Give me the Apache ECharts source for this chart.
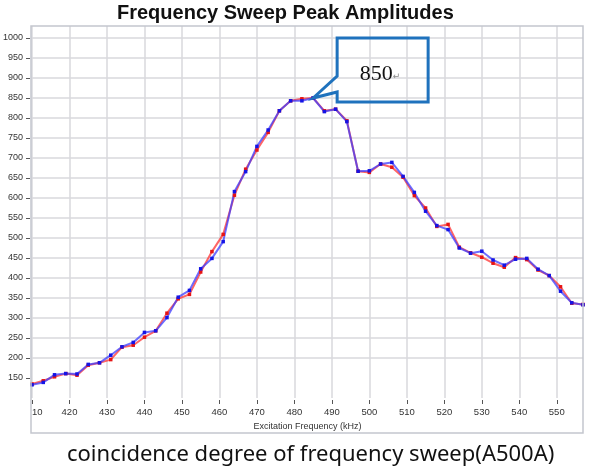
<!DOCTYPE html>
<html>
<head>
<meta charset="utf-8">
<title>Frequency Sweep Peak Amplitudes</title>
<script src="https://cdn.jsdelivr.net/npm/echarts@6/dist/echarts.min.js"></script>
<style>
	html, body { margin: 0; padding: 0; background: #fff; }
	#chart { width: 594px; height: 469px; }
</style>
</head>
<body>
<div id="chart"></div>
<script>
// excitation frequency (kHz), one point every 3 kHz
var freq = [410, 413, 416, 419, 422, 425, 428, 431, 434, 437,
	440, 443, 446, 449, 452, 455, 458, 461, 464, 467,
	470, 473, 476, 479, 482, 485, 488, 491, 494, 497,
	500, 503, 506, 509, 512, 515, 518, 521, 524, 527,
	530, 533, 536, 539, 542, 545, 548, 551, 554, 557];
// red sweep
var redAmp = [135, 143, 153, 161, 157, 182, 188, 196, 227, 232,
	252, 268, 312, 348, 359, 415, 466, 509, 607, 672,
	720, 764, 818, 843, 848, 850, 818, 822, 793, 667,
	664, 685, 677, 652, 606, 575, 529, 534, 477, 463,
	452, 437, 427, 451, 446, 420, 406, 378, 337, 334];
// blue sweep
var blueAmp = [133, 139, 158, 161, 160, 184, 188, 207, 228, 239,
	264, 268, 301, 352, 369, 423, 449, 491, 616, 666,
	729, 770, 818, 843, 843, 850, 816, 822, 791, 667,
	668, 685, 689, 654, 614, 567, 531, 521, 475, 462,
	467, 445, 432, 447, 449, 422, 406, 367, 338, 333];
var xTicks = [410, 420, 430, 440, 450, 460, 470, 480, 490, 500, 510, 520, 530, 540, 550];
var yTicks = [150, 200, 250, 300, 350, 400, 450, 500, 550, 600, 650, 700, 750, 800, 850, 900, 950, 1000];
var peak = { freq: 485, amp: 850 };

var FONT = '"Liberation Sans", Arial, sans-serif';

var CHART = {
	init: function()
	{
		this.table = echarts.init(document.getElementById('chart'));
		this.table.setOption(this.option());
		this.callout();
	},
	pairs: function(ys)
	{
		var out = [];
		for (var i = 0; i < freq.length; i++) out.push([freq[i], ys[i]]);
		return out;
	},
	line: function(name, ys, lineColor, dotColor)
	{
		return {
			name: name,
			type: 'line',
			data: this.pairs(ys),
			symbol: 'rect',
			symbolSize: 3.5,
			showAllSymbol: true,
			silent: true,
			lineStyle: { width: 2, color: lineColor },
			itemStyle: { color: dotColor },
			emphasis: { disabled: true }
		};
	},
	// speech-bubble note pointing at the peak, anchored on the data point
	callout: function()
	{
		var p = this.table.convertToPixel({ seriesIndex: 1 }, [peak.freq, peak.amp]);
		var x = p[0], y = p[1];
		this.table.setOption({
			graphic: [{
				id: 'bubble',
				type: 'polygon',
				silent: true,
				shape: { points: [
					[x, y], [x + 24, y - 22], [x + 24, y - 60], [x + 115, y - 60],
					[x + 115, y + 4], [x + 24, y + 4], [x + 24, y - 6]
				] },
				style: { fill: 'none', stroke: '#1f72bd', lineWidth: 3, lineJoin: 'miter' },
				z: 20
			}, {
				id: 'bubbleText',
				type: 'text',
				silent: true,
				x: x + 67,
				y: y - 24,
				style: {
					text: '{a|' + peak.amp + '}{b|\u21b5}',
					align: 'center',
					verticalAlign: 'middle',
					rich: {
						a: { fontFamily: '"Liberation Serif", "DejaVu Serif", serif', fontSize: 22, fill: '#111' },
						b: { fontFamily: 'DejaVu Sans', fontSize: 9, fill: '#888', padding: [6, 0, 0, 0] }
					}
				},
				z: 21
			}]
		});
	},
	option: function()
	{
		// hide the split line that sits on the bottom edge
		var hLines = ['rgba(0,0,0,0)'];
		for (var i = 0; i < 30; i++) hLines.push('#d9d9dc');

		return {
			animation: false,
			backgroundColor: '#fff',
			title: {
				text: 'Frequency Sweep Peak Amplitudes',
				left: 112,
				top: -2,
				textStyle: { fontFamily: FONT, fontSize: 20, fontWeight: 'bold', color: '#111' }
			},
			grid: { left: 31, top: 26, width: 552, height: 372, containLabel: false },
			xAxis: {
				type: 'value',
				min: 410,
				max: 557,
				interval: 10,
				offset: 2,
				name: 'Excitation Frequency (kHz)',
				nameLocation: 'middle',
				nameGap: 20,
				nameTextStyle: { fontFamily: FONT, fontSize: 9, color: '#333' },
				axisLine: { show: false },
				axisTick: { show: true, length: 4, lineStyle: { color: '#555' }, customValues: xTicks },
				axisLabel: {
					fontFamily: FONT,
					fontSize: 9.5,
					color: '#333',
					margin: 7,
					customValues: xTicks,
					alignMinLabel: 'left',
					formatter: function(v) { return v == xTicks[0] ? String(v).slice(1) : String(v); }
				},
				splitLine: { show: true, lineStyle: { color: '#d9d9dc', width: 1.5 } }
			},
			yAxis: {
				type: 'value',
				min: 100,
				max: 1030,
				interval: 50,
				offset: 2,
				axisLine: { show: false },
				axisTick: { show: true, length: 4, lineStyle: { color: '#555' }, customValues: yTicks },
				axisLabel: {
					fontFamily: FONT,
					fontSize: 9,
					color: '#333',
					margin: 7,
					customValues: yTicks,
					formatter: function(v) { return String(v); }
				},
				splitLine: { show: true, lineStyle: { color: hLines, width: 1.5 } }
			},
			graphic: [
				{
					id: 'frame',
					type: 'rect',
					silent: true,
					shape: { x: 31, y: 26, width: 552, height: 407 },
					style: { fill: 'none', stroke: '#c4c6ce', lineWidth: 1.5 },
					z: 10
				},
				{
					id: 'caption',
					type: 'text',
					silent: true,
					left: 67,
					top: 444,
					style: {
						text: 'coincidence degree of frequency sweep(A500A)',
						fontFamily: '"Noto Sans", "Open Sans", sans-serif',
						fontSize: 22,
						fill: '#111'
					}
				}
			],
			series: [
				this.line('red', redAmp, 'rgba(255,50,50,0.75)', '#e61414'),
				this.line('blue', blueAmp, 'rgba(60,60,255,0.75)', '#1414e6')
			]
		};
	}
};

CHART.init();
</script>
</body>
</html>
